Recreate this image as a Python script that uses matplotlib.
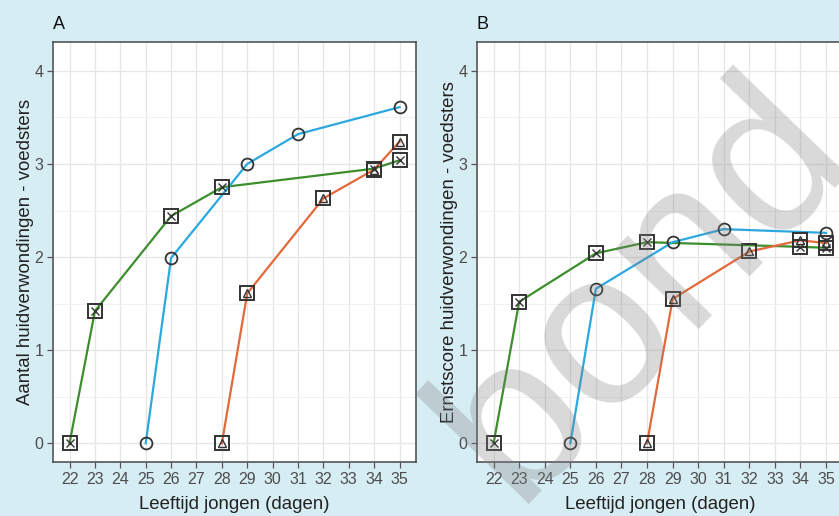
import matplotlib.pyplot as plt

plt.rcParams["font.family"] = ["Liberation Sans", "DejaVu Sans"]

BG = "#d7edf4"
GREEN = "#3c8e2c"
BLUE = "#2aa8df"
ORANGE = "#e3693a"

days = list(range(22, 36))

# panel A - aantal huidverwondingen
a_green_x = [22, 23, 26, 28, 34, 35]
a_green_y = [0, 1.42, 2.44, 2.75, 2.95, 3.04]
a_blue_x = [25, 26, 29, 31, 35]
a_blue_y = [0, 1.99, 3.0, 3.32, 3.61]
a_orange_x = [28, 29, 32, 34, 35]
a_orange_y = [0, 1.61, 2.63, 2.94, 3.24]

# panel B - ernstscore huidverwondingen
b_green_x = [22, 23, 26, 28, 34, 35]
b_green_y = [0, 1.52, 2.04, 2.16, 2.11, 2.1]
b_blue_x = [25, 26, 29, 31, 35]
b_blue_y = [0, 1.66, 2.16, 2.3, 2.26]
b_orange_x = [28, 29, 32, 34, 35]
b_orange_y = [0, 1.55, 2.06, 2.18, 2.15]


def draw_series(ax, x, y, color, kind):
    ax.plot(x, y, color=color, lw=1.6, zorder=3)
    if kind == "circle":
        ax.plot(x, y, ls="none", marker="o", ms=8.5, mfc="none", mec="#333333",
                mew=1.3, zorder=4)
        return
    ax.plot(x, y, ls="none", marker="s", ms=10.5, mfc="none", mec="#333333",
            mew=1.4, zorder=4)
    inner = "x" if kind == "sqx" else "^"
    ax.plot(x, y, ls="none", marker=inner, ms=6 if inner == "x" else 5.5,
            mfc="none", mec="#333333", mew=1.0, zorder=4)


def style_axes(ax, ylabel, letter):
    ax.set_xlim(21.35, 35.65)
    ax.set_ylim(-0.2, 4.31)
    ax.set_xticks(days)
    ax.set_yticks([0, 1, 2, 3, 4])
    ax.set_yticks([0.5, 1.5, 2.5, 3.5], minor=True)
    ax.grid(which="major", color="#e6e6e6", lw=0.9, zorder=0)
    ax.grid(which="minor", axis="y", color="#efefef", lw=0.6, zorder=0)
    ax.tick_params(which="minor", length=0)
    ax.tick_params(which="major", length=4, width=0.9, color="#555555",
                   labelcolor="#4d4d4d", labelsize=11.5, pad=3)
    for s in ax.spines.values():
        s.set_color("#555555")
        s.set_linewidth(1.2)
    ax.set_xlabel("Leeftijd jongen (dagen)", fontsize=13.4, color="#222222",
                  labelpad=7)
    ax.set_ylabel(ylabel, fontsize=13.4, color="#222222", labelpad=0)
    ax.set_title(letter, loc="left", fontsize=13, color="#111111", pad=9)


fig = plt.figure(figsize=(8.39, 5.16), dpi=100, facecolor=BG)

axA = fig.add_axes([0.0632, 0.1047, 0.4327, 0.814])
draw_series(axA, a_green_x, a_green_y, GREEN, "sqx")
draw_series(axA, a_blue_x, a_blue_y, BLUE, "circle")
draw_series(axA, a_orange_x, a_orange_y, ORANGE, "sqt")
style_axes(axA, "Aantal huidverwondingen - voedsters", "A")

axB = fig.add_axes([0.5685, 0.1047, 0.4359, 0.814])
draw_series(axB, b_green_x, b_green_y, GREEN, "sqx")
draw_series(axB, b_blue_x, b_blue_y, BLUE, "circle")
draw_series(axB, b_orange_x, b_orange_y, ORANGE, "sqt")
style_axes(axB, "Ernstscore huidverwondingen - voedsters", "B")

# watermark over the right part of the picture
fig.text(0.768, 0.44, "bond", fontsize=158, color="#808080", alpha=0.3,
         rotation=46, ha="center", va="center", zorder=10)

fig.savefig("out.png", dpi=100, facecolor=BG)
